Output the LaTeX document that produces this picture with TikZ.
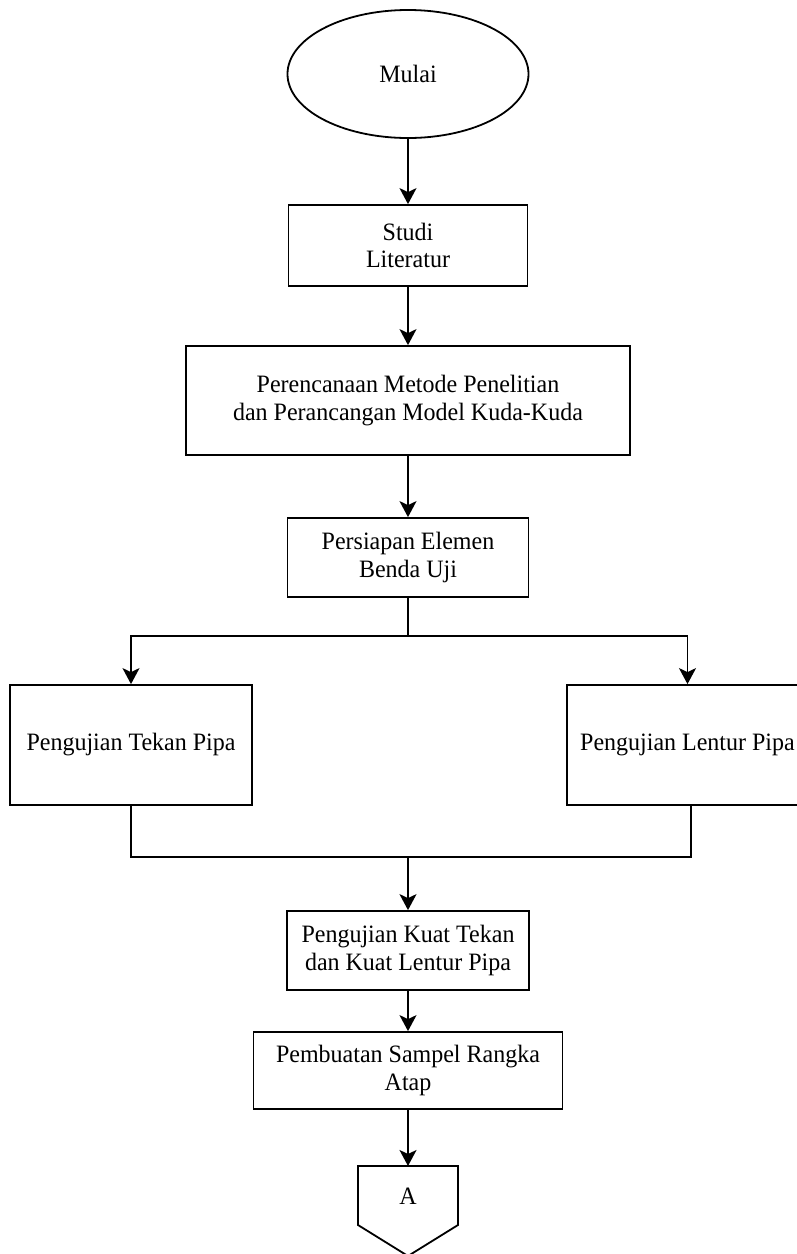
\documentclass[tikz,border=0pt]{standalone}
\usepackage{fontspec}
\setmainfont{Liberation Serif}[FakeStretch=0.96]
\usetikzlibrary{shapes.geometric,arrows.meta}
\begin{document}
\begin{tikzpicture}[x=1pt,y=-1pt,
  txt/.style={font=\fontsize{25}{27.5}\selectfont, align=center},
  box/.style={txt, draw, line width=1.8pt, rectangle, inner sep=0pt, fill=white},
  conn/.style={line width=1.8pt},
  arr/.style={conn, -{Stealth[length=16pt,width=17pt,inset=4pt]}}]
\useasboundingbox (0,0) rectangle (797,1254);
\fill[white] (0,0) rectangle (797,1254);

\node[box, ellipse, minimum width=241pt, minimum height=128pt] (start) at (408,74) {Mulai};
\node[box, minimum width=239pt, minimum height=81pt] (studi) at (408,245.5) {Studi\\Literatur};
\node[box, minimum width=444pt, minimum height=109pt] (plan) at (408,400.5) {Perencanaan Metode Penelitian\\dan Perancangan Model Kuda-Kuda};
\node[box, minimum width=241pt, minimum height=79pt] (prep) at (408,557.5) {Persiapan Elemen\\Benda Uji};
\node[box, minimum width=242pt, minimum height=120pt] (left) at (131,745) {Pengujian Tekan Pipa};
\node[box, minimum width=241pt, minimum height=120pt] (right) at (687.5,745) {Pengujian Lentur Pipa};
\node[box, minimum width=242pt, minimum height=79pt] (kuat) at (408,950.5) {Pengujian Kuat Tekan\\dan Kuat Lentur Pipa};
\node[box, minimum width=309pt, minimum height=77pt] (buat) at (408,1070.5) {Pembuatan Sampel Rangka\\Atap};

\coordinate (p1) at (358,1166);
\coordinate (p2) at (458,1166);
\coordinate (p3) at (458,1225);
\coordinate (p4) at (408,1256);
\coordinate (p5) at (358,1225);
\draw[conn, fill=white] (p1) -- (p2) -- (p3) -- (p4) -- (p5) -- cycle;
\node[txt] (A) at (408,1196) {A};
\coordinate (Atop) at (408,1166);

\draw[arr] (start.south) -- (studi.north);
\draw[arr] (studi.south) -- (plan.north);
\draw[arr] (plan.south) -- (prep.north);

\coordinate (split) at (408,636);
\draw[conn] (prep.south) -- (split);
\draw[arr] (split) -| (left.north);
\draw[arr] (split) -| (right.north);

\coordinate (merge) at (408,857);
\coordinate (rb) at (691,805);
\draw[conn] (left.south) |- (merge);
\draw[conn] (rb) |- (merge);
\draw[arr] (merge) -- (kuat.north);
\draw[arr] (kuat.south) -- (buat.north);
\draw[arr] (buat.south) -- (Atop);
\end{tikzpicture}
\end{document}
